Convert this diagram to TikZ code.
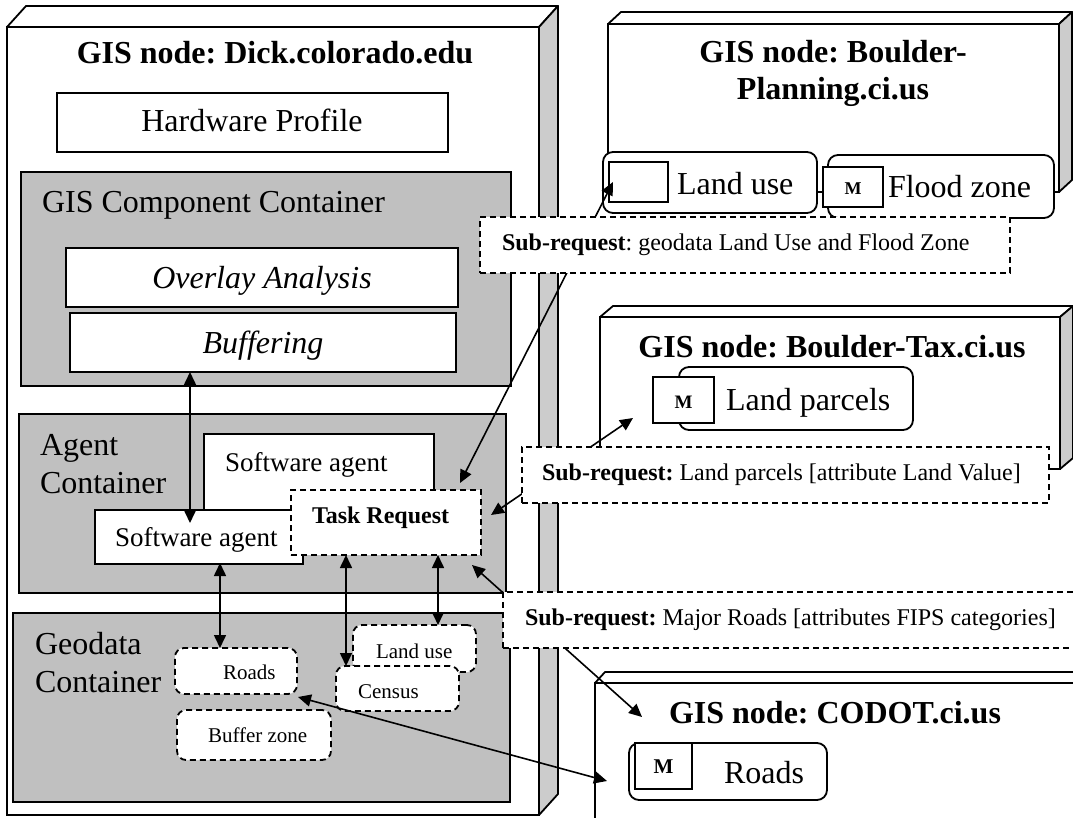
\documentclass[tikz,border=0pt]{standalone}
\usepackage{fontspec}
\setmainfont{Liberation Serif}
\usetikzlibrary{arrows.meta,calc,fit}
\definecolor{cgrey}{RGB}{192,192,192}
\definecolor{sgrey}{RGB}{204,204,204}
\frenchspacing
\newcommand\fsA{\fontsize{32}{37}\selectfont}
\newcommand\fsAg{\fontsize{32}{38}\selectfont}
\newcommand\fsB{\fontsize{27}{32}\selectfont}
\newcommand\fsC{\fontsize{24}{28}\selectfont}
\newcommand\fsD{\fontsize{21}{25}\selectfont}
\newcommand\fsM{\fontsize{19}{22}\selectfont}
\newcommand\threed[2]{%
  \draw[face] (#1.north west) -- ++(#2) -- ($(#1.north east)+(#2)$) -- (#1.north east) -- cycle;
  \draw[side] (#1.north east) -- ++(#2) -- ($(#1.south east)+(#2)$) -- (#1.south east) -- cycle;}
\begin{document}
\begin{tikzpicture}[x=1pt,y=-1pt,
  every node/.style={inner sep=0pt, outer sep=0pt},
  bx/.style={draw, line width=1.8pt, fill=white, rectangle},
  gbx/.style={bx, fill=cgrey},
  rbx/.style={bx, rounded corners=10pt},
  dbx/.style={bx, dash pattern=on 6pt off 4pt},
  drbx/.style={dbx, rounded corners=9pt},
  face/.style={draw, line width=1.8pt, fill=white, line join=round},
  side/.style={draw, line width=1.8pt, fill=sgrey, line join=round},
  dbl/.style={line width=1.6pt, {Triangle[length=13pt,width=12pt]}-{Triangle[length=13pt,width=12pt]}}
]
\useasboundingbox (0,0) rectangle (1073,818);
\fill[white] (0,0) rectangle (1073,818);
\clip (0,0) rectangle (1073,818);

% ---------- Boulder-Planning ----------
\node[bx, fit={(608,24) (1059,192)}] (bp) {};
\threed{bp}{13,-12}
\node[anchor=base] (bpt) at (833,63) {\fsA\bfseries\begin{tabular}[t]{@{}c@{}}GIS node: Boulder-\\Planning.ci.us\end{tabular}};
\node[rbx, fit={(603,152) (817,213)}] (bplu) {};
\node[bx, fit={(609,162) (668,202)}] (bplusq) {};
\node[anchor=base west] (bplut) at (677,195) {\fsA Land use};
\node[rbx, fit={(828,155) (1054,218)}] (fz) {};
\node[bx, fit={(823,167) (883,207)}] (fzm) {};
\node[anchor=base] (fzmt) at (853,195) {\fontsize{18}{21}\selectfont\bfseries M};
\node[anchor=base west] (fzt) at (888,198) {\fsA Flood zone};
\draw[line width=1.8pt] ($(bplu.east)+(0,9.5)$) -- ($(fzm.west)+(0,5)$);

% ---------- Boulder-Tax ----------
\node[bx, fit={(600,317) (1060,469)}] (bt) {};
\threed{bt}{13,-11}
\node[anchor=base] (btt) at (832,357) {\fsA\bfseries GIS node: Boulder-Tax.ci.us};
\node[rbx, fit={(679,367) (913,430)}] (lp) {};
\node[bx, fit={(653,377) (714,423)}] (lpm) {};
\node[anchor=base] (lpmt) at (683.5,408) {\fsM\bfseries M};
\node[anchor=base west] (lpt) at (726,410) {\fsA Land parcels};

% ---------- CODOT ----------
\node[bx, fit={(595,683) (1120,870)}] (codot) {};
\threed{codot}{10,-11}
\node[anchor=base] (codt) at (835,723) {\fsA\bfseries GIS node: CODOT.ci.us};
\node[rbx, fit={(629,743) (827,800)}] (cr) {};
\node[bx, fit={(635,743) (692,789)}] (crm) {};
\node[anchor=base] (crmt) at (663.5,773) {\fsD\bfseries M};
\node[anchor=base west] (crt) at (724,783) {\fsA Roads};

% ---------- Dick.colorado.edu ----------
\node[bx, fit={(7,27) (539,815)}] (dick) {};
\threed{dick}{19,-21}
\node[anchor=base] (dickt) at (275,64) {\fsA\bfseries GIS node: Dick.colorado.edu};
\node[bx, fit={(57,93) (448,152)}] (hw) {};
\node[anchor=base] (hwt) at (252,132) {\fsA Hardware Profile};

\node[gbx, fit={(21,172) (511,386)}] (gisc) {};
\node[anchor=base west] (gisct) at (42,213) {\fsA GIS Component Container};
\node[bx, fit={(66,248) (458,307)}] (ovl) {};
\node[anchor=base] (ovlt) at (262,288) {\fsA\itshape Overlay Analysis};
\node[bx, fit={(70,313) (456,372)}] (buf) {};
\node[anchor=base] (buft) at (263,353) {\fsA\itshape Buffering};

\node[gbx, fit={(19,414) (506,593)}] (agc) {};
\node[anchor=base west] (agct) at (40,455) {\fsAg\begin{tabular}[t]{@{}l@{}}Agent\\Container\end{tabular}};
\node[bx, fit={(204,434) (434,520)}] (swb) {};
\node[anchor=base west] (swbt) at (225,471) {\fsB Software agent};
\node[bx, fit={(95,510) (303,564)}] (swf) {};
\node[anchor=base west] (swft) at (115,546) {\fsB Software agent};
\node[dbx, fit={(291,490) (481,555)}] (task) {};
\node[anchor=base west] (taskt) at (312,523) {\fsC\bfseries Task Request};

\node[gbx, fit={(13,613) (510,802)}] (geoc) {};
\node[anchor=base west] (geoct) at (35,654) {\fsAg\begin{tabular}[t]{@{}l@{}}Geodata\\Container\end{tabular}};
\node[drbx, fit={(175,648) (297,694)}] (roadsg) {};
\node[anchor=base west] (roadsgt) at (223,679) {\fsD Roads};
\node[drbx, fit={(177,710) (331,760)}] (bufz) {};
\node[anchor=base west] (bufzt) at (208,742) {\fsD Buffer zone};
\node[drbx, fit={(353,625) (476,672)}] (lug) {};
\node[anchor=base west] (lugt) at (376,658) {\fsD Land use};
\node[drbx, fit={(336,666) (459,711)}] (cens) {};
\node[anchor=base west] (censt) at (358,698) {\fsD Census};

% ---------- connectors ----------
\draw[dbl] ($(buf.south west)+(120,0)$) -- ($(swf.north west)+(95,13)$);
\draw[dbl] ($(swf.south west)+(125,-1)$) -- ($(roadsg.north west)+(45,0)$);
\draw[dbl] ($(task.south west)+(55,0)$) -- ($(cens.north west)+(10,0)$);
\draw[dbl] ($(task.south west)+(147,0)$) -- ($(lug.north west)+(85,0)$);
\draw[dbl] ($(task.north east)+(-21,-7)$) -- ($(bplusq.south west)+(4,-20)$);
\draw[dbl] ($(task.east)+(10,-7.5)$) -- ($(lpm.south west)+(-20,-5)$);
\draw[dbl] ($(task.south east)+(-9,10)$) -- ($(codot.north west)+(47,34)$);
\draw[dbl] ($(roadsg.south east)+(1,3)$) -- ($(cr.west)+(-22,9.5)$);

% ---------- sub-requests ----------
\node[dbx, fit={(480,217) (1010,273)}] (sr1) {};
\node[anchor=base west] (sr1t) at (502,251) {\fsC\textbf{Sub-request}: geodata Land Use and Flood Zone};
\node[dbx, fit={(522,447) (1049,503)}] (sr2) {};
\node[anchor=base west] (sr2t) at (542,480) {\fsC\textbf{Sub-request:} Land parcels [attribute Land Value]};
\node[dbx, fit={(503,592) (1120,648)}] (sr3) {};
\node[anchor=base west] (sr3t) at (525,625) {\fsC\textbf{Sub-request:} Major Roads [attributes FIPS categories]};
\end{tikzpicture}
\end{document}
